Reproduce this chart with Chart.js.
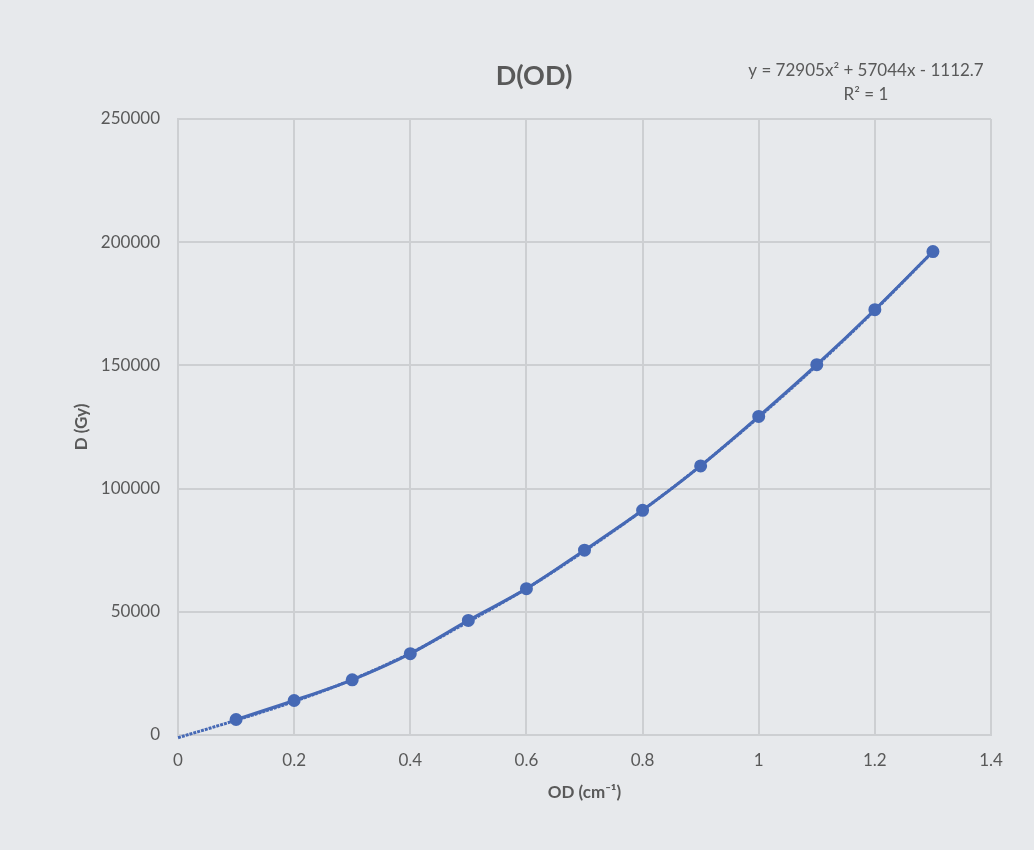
<!DOCTYPE html>
<html>
<head>
<meta charset="utf-8">
<script src="https://cdn.jsdelivr.net/npm/chart.js@4/dist/chart.umd.min.js"></script>
<style>
  html, body { margin: 0; padding: 0; background: #e7e9ec; }
  #wrap { width: 1034px; height: 850px; }
</style>
</head>
<body>
<div id="wrap"><canvas id="myChart" width="1034" height="850"></canvas></div>
<script>
// values
const od = [0.1, 0.2, 0.3, 0.4, 0.5, 0.6, 0.7, 0.8, 0.9, 1.0, 1.1, 1.2, 1.3]
const dose = [6300, 14000, 22400, 33000, 46500, 59400, 75000, 91200, 109200, 129300, 150300, 172600, 196200]

// trendline as it shows in the picture (starts just under zero at OD = 0)
const trendOd = [0, 0.1, 0.2, 0.3, 0.4, 0.5, 0.6, 0.7, 0.8, 0.9, 1.0, 1.1, 1.2, 1.3]
const trendDose = [-1100, 6000, 13600, 22500, 33200, 46000, 59400, 74700, 91200, 109300, 129000, 150000, 172400, 196200]

const xTicks = [0, 0.2, 0.4, 0.6, 0.8, 1, 1.2, 1.4]
const yTicks = [0, 50000, 100000, 150000, 200000, 250000]

const chartTitle = 'D(OD)'
const equation = ['y = 72905x² + 57044x - 1112.7', 'R² = 1']
const xTitle = 'OD (cm⁻¹)'
const yTitle = 'D (Gy)'

const lineColor = '#4669b5'
const textColor = '#595959'
const gridColor = '#cdcfd2'
const fontFamily = 'Lato, "Open Sans", sans-serif'

const textPlugin = {
  id: 'textPlugin',
  beforeDraw(chart) {
    const { ctx, width, height } = chart
    ctx.save()
    ctx.fillStyle = '#e7e9ec'
    ctx.fillRect(0, 0, width, height)
    ctx.restore()
  },
  afterDraw(chart) {
    const {
      ctx,
      chartArea: { left, top, right, bottom },
    } = chart
    ctx.save()
    ctx.fillStyle = textColor
    ctx.textAlign = 'center'
    ctx.textBaseline = 'middle'

    ctx.font = `bold 27px ${fontFamily}`
    ctx.fillText(chartTitle, 534, 76)

    ctx.font = `17px ${fontFamily}`
    ctx.fillText(equation[0], 866, 71)
    ctx.fillText(equation[1], 866, 95)

    ctx.font = `bold 17px ${fontFamily}`
    ctx.fillText(xTitle, (left + right) / 2, 793)

    ctx.translate(82, (top + bottom) / 2)
    ctx.rotate(-Math.PI / 2)
    ctx.fillText(yTitle, 0, 0)
    ctx.restore()
  },
}

const data = {
  datasets: [
    {
      label: 'D',
      data: od.map((x, i) => ({ x: x, y: dose[i] })),
      borderColor: lineColor,
      backgroundColor: lineColor,
      borderWidth: 3,
      pointRadius: 5,
      pointHoverRadius: 5,
      tension: 0.4,
      cubicInterpolationMode: 'monotone',
      clip: 6,
      order: 1,
    },
    {
      label: 'Trend',
      data: trendOd.map((x, i) => ({ x: x, y: trendDose[i] })),
      borderColor: lineColor,
      borderWidth: 3,
      borderDash: [3, 1],
      pointRadius: 0,
      tension: 0.4,
      cubicInterpolationMode: 'monotone',
      clip: 6,
      order: 2,
    },
  ],
}

const config = {
  type: 'scatter',
  data: data,
  options: {
    responsive: false,
    animation: false,
    showLine: true,
    layout: {
      padding: { left: 0, top: 119, right: 43, bottom: 0 },
    },
    plugins: {
      legend: { display: false },
      tooltip: { enabled: false },
      title: { display: false },
    },
    scales: {
      x: {
        type: 'linear',
        min: 0,
        max: 1.4,
        afterBuildTicks: (scale) => {
          scale.ticks = xTicks.map((v) => ({ value: v }))
        },
        afterFit: (scale) => {
          scale.height = 115
        },
        grid: { color: gridColor, lineWidth: 2, drawTicks: false },
        border: { color: gridColor, width: 2 },
        ticks: {
          color: textColor,
          font: { family: fontFamily, size: 17 },
          padding: 15,
          maxRotation: 0,
          callback: (v) => String(Number(Number(v).toFixed(2))),
        },
      },
      y: {
        type: 'linear',
        min: 0,
        max: 250000,
        afterBuildTicks: (scale) => {
          scale.ticks = yTicks.map((v) => ({ value: v }))
        },
        afterFit: (scale) => {
          scale.width = 178
        },
        grid: { color: gridColor, lineWidth: 2, drawTicks: false },
        border: { color: gridColor, width: 2 },
        ticks: {
          color: textColor,
          font: { family: fontFamily, size: 17 },
          padding: 18,
          callback: (v) => String(v),
        },
      },
    },
  },
  plugins: [textPlugin],
}

const myChart = new Chart(document.getElementById('myChart'), config)
</script>
</body>
</html>
